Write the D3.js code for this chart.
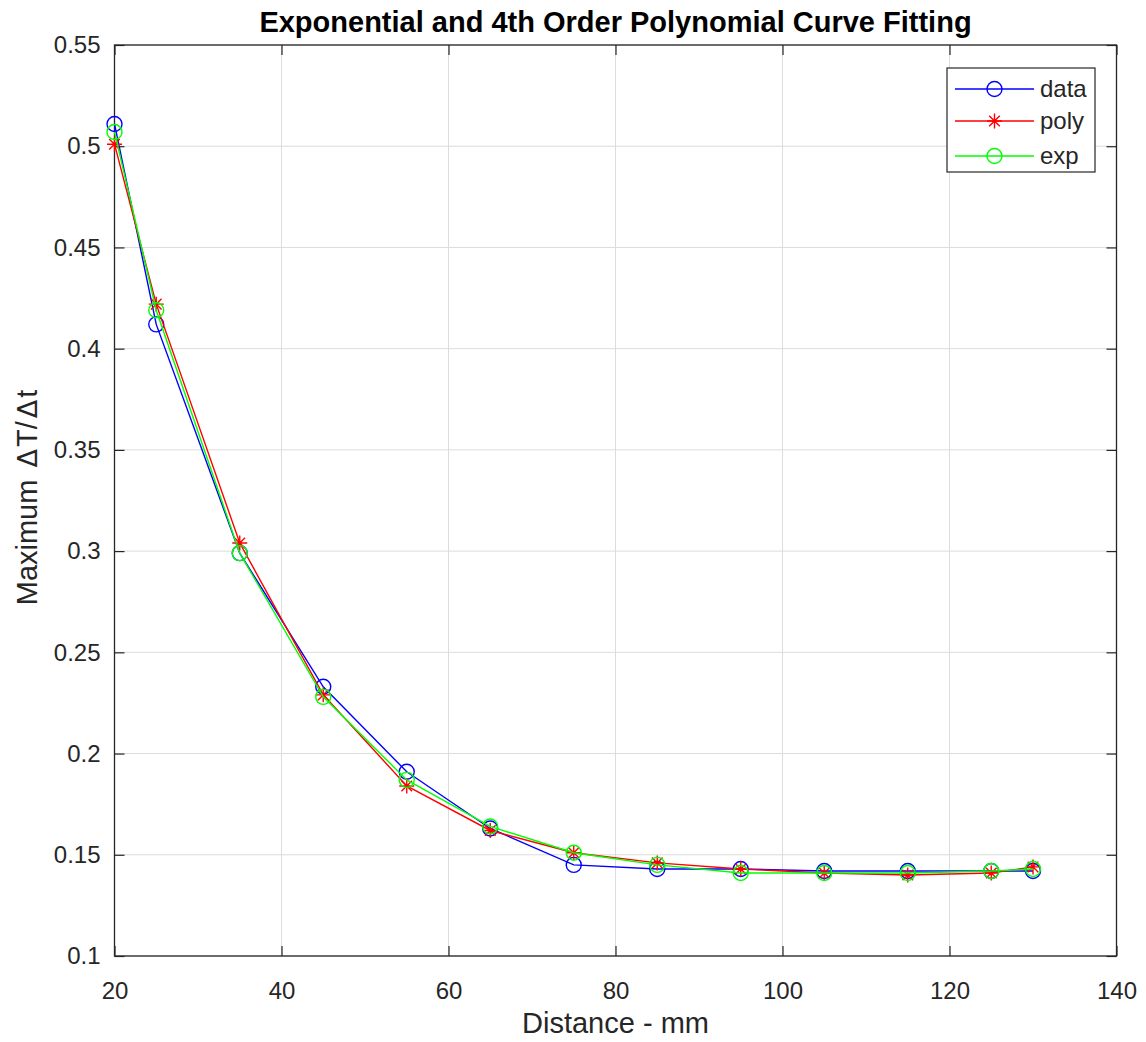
<!DOCTYPE html>
<html><head><meta charset="utf-8">
<script src="https://cdn.jsdelivr.net/npm/d3@7"></script>
<style>body{margin:0;background:#fff;} text{font-family:"Liberation Sans",Arial,sans-serif;}</style>
</head><body><svg id="c" width="1146" height="1042"></svg>
<script>
const distances = [20, 25, 35, 45, 55, 65, 75, 85, 95, 105, 115, 125, 130];
const dataVals = [0.511, 0.412, 0.299, 0.233, 0.191, 0.163, 0.145, 0.143, 0.143, 0.142, 0.142, 0.142, 0.142];
const polyVals = [0.501, 0.422, 0.304, 0.229, 0.184, 0.162, 0.151, 0.146, 0.143, 0.141, 0.140, 0.141, 0.144];
const expVals  = [0.507, 0.419, 0.299, 0.228, 0.187, 0.164, 0.151, 0.145, 0.141, 0.141, 0.141, 0.142, 0.143];
const xTicks = [20, 40, 60, 80, 100, 120, 140];
const yTicks = [0.1, 0.15, 0.2, 0.25, 0.3, 0.35, 0.4, 0.45, 0.5, 0.55];
const seriesNames = ["data", "poly", "exp"];

const svg = d3.select("#c");
const L = 114.5, R = 1116.5, T = 45, B = 956;
const x = d3.scaleLinear().domain([20, 140]).range([L, R]);
const y = d3.scaleLinear().domain([0.1, 0.55]).range([B, T]);
const axisColor = "#262626";

// grid
const g = svg.append("g");
g.selectAll(".gx").data(xTicks).join("line")
  .attr("x1", d => x(d)).attr("x2", d => x(d)).attr("y1", T).attr("y2", B)
  .attr("stroke", "#dcdcdc").attr("stroke-width", 1);
g.selectAll(".gy").data(yTicks).join("line")
  .attr("y1", d => y(d)).attr("y2", d => y(d)).attr("x1", L).attr("x2", R)
  .attr("stroke", "#dcdcdc").attr("stroke-width", 1);

// axes
function styleAxis(sel) {
  sel.select(".domain").remove();
  sel.selectAll(".tick line").attr("stroke", axisColor).attr("stroke-width", 1.2);
  sel.selectAll(".tick text").attr("fill", axisColor).style("font-size", "24px")
    .style("font-family", "'Liberation Sans',Arial,sans-serif");
}
const fmt = d => d3.format("")(+d.toFixed(2));
svg.append("g").attr("transform", `translate(0,${B})`)
  .call(d3.axisBottom(x).tickValues(xTicks).tickSize(-10).tickPadding(26).tickFormat(fmt)).call(styleAxis);
svg.append("g").attr("transform", `translate(0,${T})`)
  .call(d3.axisTop(x).tickValues(xTicks).tickSize(-10).tickFormat("")).call(styleAxis);
svg.append("g").attr("transform", `translate(${L},0)`)
  .call(d3.axisLeft(y).tickValues(yTicks).tickSize(-10).tickPadding(14).tickFormat(fmt)).call(styleAxis);
svg.append("g").attr("transform", `translate(${R},0)`)
  .call(d3.axisRight(y).tickValues(yTicks).tickSize(-10).tickFormat("")).call(styleAxis);

svg.append("rect").attr("x", L).attr("y", T).attr("width", R - L).attr("height", B - T)
  .attr("fill", "none").attr("stroke", axisColor).attr("stroke-width", 1.3);

// series
const colors = {data: "#0000ff", poly: "#ff0000", exp: "#00ff00"};
const vals = {data: dataVals, poly: polyVals, exp: expVals};
const line = d3.line().x(d => x(d[0])).y(d => y(d[1]));
const symStar = (cx, cy, r) => {
  const a = r * 0.7071;
  return `M${cx - r},${cy}L${cx + r},${cy}M${cx},${cy - r}L${cx},${cy + r}M${cx - a},${cy - a}L${cx + a},${cy + a}M${cx - a},${cy + a}L${cx + a},${cy - a}`;
};
function drawMarker(sel, name, cx, cy) {
  if (name === "poly") {
    sel.append("path").attr("d", symStar(cx, cy, 7.5)).attr("stroke", colors[name]).attr("stroke-width", 1.4).attr("fill", "none");
  } else {
    sel.append("circle").attr("cx", cx).attr("cy", cy).attr("r", 7.5)
      .attr("fill", "none").attr("stroke", colors[name]).attr("stroke-width", 1.4);
  }
}
seriesNames.forEach(name => {
  const pts = distances.map((d, i) => [d, vals[name][i]]);
  const sg = svg.append("g");
  sg.append("path").attr("d", line(pts)).attr("fill", "none").attr("stroke", colors[name]).attr("stroke-width", 1.4);
  pts.forEach(p => drawMarker(sg, name, x(p[0]), y(p[1])));
});

// legend
const lg = svg.append("g");
lg.append("rect").attr("x", 947).attr("y", 68).attr("width", 148).attr("height", 104)
  .attr("fill", "#fff").attr("stroke", axisColor).attr("stroke-width", 1.2);
const rowsY = [89, 121, 156];
seriesNames.forEach((name, i) => {
  const yy = rowsY[i];
  lg.append("line").attr("x1", 955).attr("x2", 1034).attr("y1", yy).attr("y2", yy)
    .attr("stroke", colors[name]).attr("stroke-width", 1.4);
  drawMarker(lg, name, 994.5, yy);
  lg.append("text").attr("x", 1040).attr("y", yy).attr("dy", "0.35em")
    .attr("fill", axisColor).style("font-size", "24px").text(name);
});

// title & labels
svg.append("text").attr("x", 615.5).attr("y", 32).attr("text-anchor", "middle")
  .style("font-size", "29px").style("font-weight", "bold").attr("fill", "#000")
  .text("Exponential and 4th Order Polynomial Curve Fitting");
svg.append("text").attr("x", 615.5).attr("y", 1033).attr("text-anchor", "middle")
  .style("font-size", "29px").attr("fill", axisColor).text("Distance - mm");
const yl = svg.append("text").attr("transform", `translate(37,${(T + B) / 2 - 3}) rotate(-90)`).attr("text-anchor", "middle")
  .style("font-size", "29px").attr("fill", axisColor);
yl.append("tspan").text("Maximum ");
yl.append("tspan").attr("dx", 4).style("font-family", "'DejaVu Sans',sans-serif").style("font-size", "27px").text("\u0394");
yl.append("tspan").attr("dx", 2).text("T/");
yl.append("tspan").attr("dx", 3).style("font-family", "'DejaVu Sans',sans-serif").style("font-size", "27px").text("\u0394");
yl.append("tspan").attr("dx", 2).text("t");
</script></body></html>
